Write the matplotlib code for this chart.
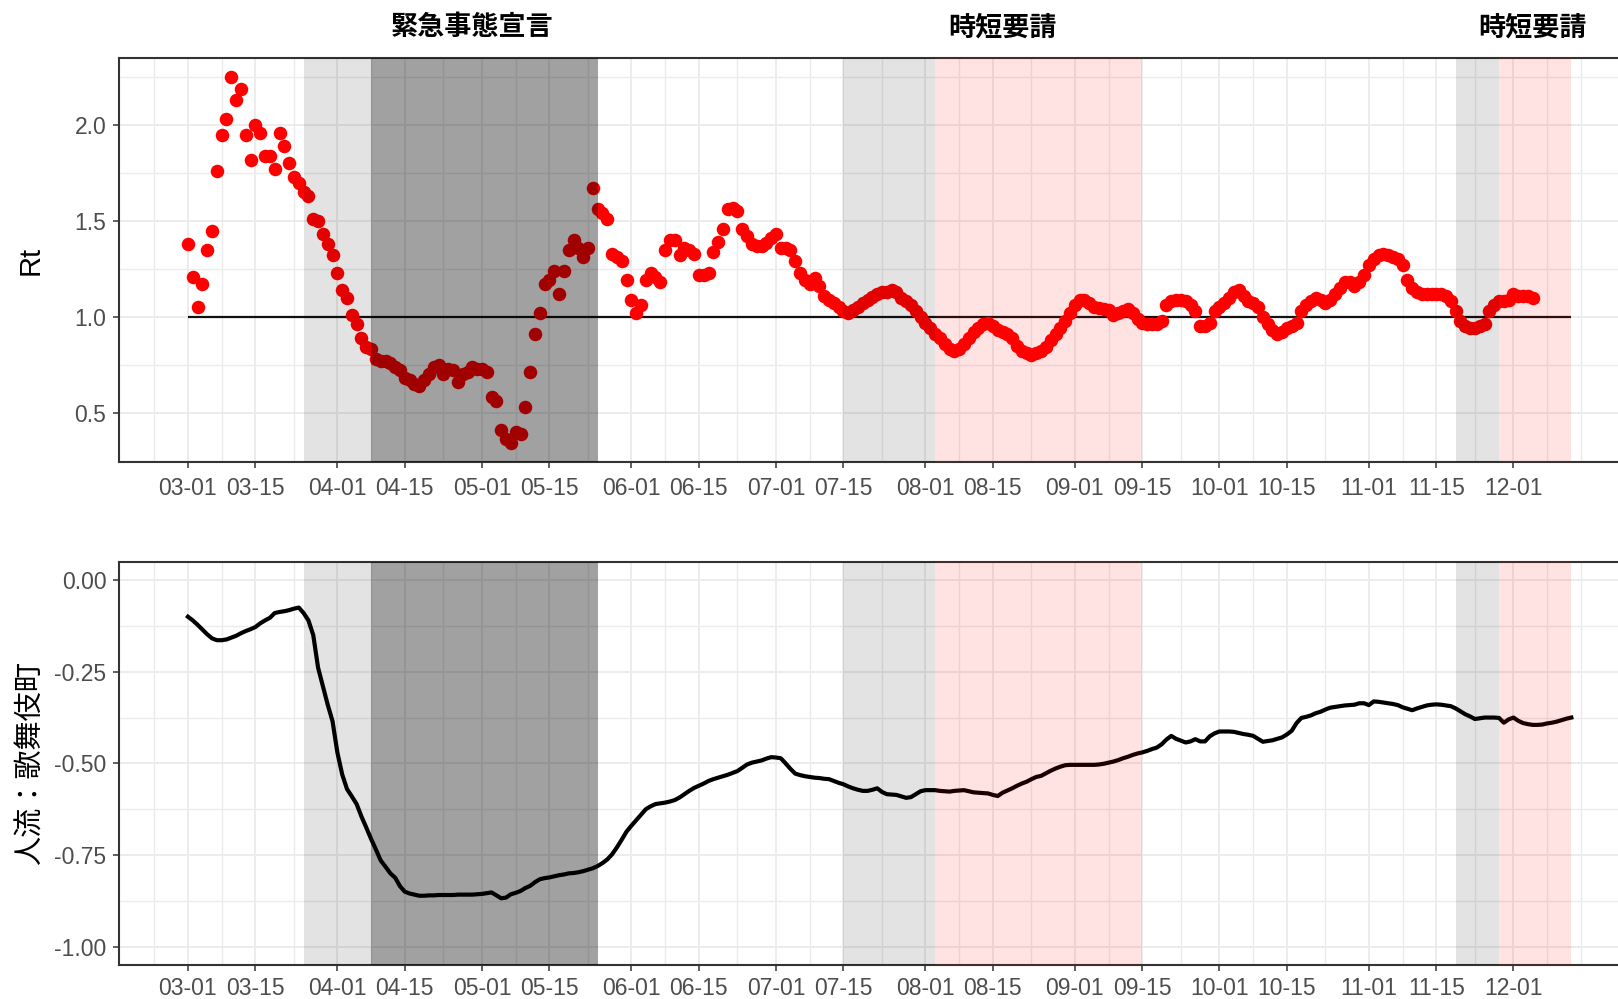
import matplotlib
matplotlib.use("Agg")
import matplotlib.pyplot as plt
import matplotlib.dates as mdates
import numpy as np

plt.rcParams['font.family'] = ['Liberation Sans', 'Noto Sans CJK JP']
plt.rcParams['axes.unicode_minus'] = False

# daily series, starting 2020-03-01
start = np.datetime64('2020-03-01')

rt = [
    1.38, 1.21, 1.05, 1.17, 1.35, 1.45, 1.76, 1.95, 2.03, 2.25,
    2.13, 2.19, 1.95, 1.82, 2.00, 1.96, 1.84, 1.84, 1.77, 1.96,
    1.89, 1.80, 1.73, 1.70, 1.65, 1.63, 1.51, 1.50, 1.43, 1.38,
    1.32, 1.23, 1.14, 1.10, 1.01, 0.96, 0.89, 0.84, 0.83, 0.78,
    0.77, 0.77, 0.76, 0.74, 0.72, 0.68, 0.67, 0.65, 0.64, 0.67,
    0.70, 0.74, 0.75, 0.70, 0.73, 0.72, 0.66, 0.70, 0.71, 0.74,
    0.73, 0.73, 0.71, 0.58, 0.56, 0.41, 0.36, 0.34, 0.40, 0.39,
    0.53, 0.71, 0.91, 1.02, 1.17, 1.19, 1.24, 1.12, 1.24, 1.35,
    1.40, 1.36, 1.31, 1.36, 1.67, 1.56, 1.54, 1.51, 1.33, 1.31,
    1.29, 1.19, 1.09, 1.02, 1.06, 1.19, 1.23, 1.21, 1.18, 1.35,
    1.40, 1.40, 1.32, 1.36, 1.35, 1.33, 1.22, 1.22, 1.23, 1.34,
    1.39, 1.46, 1.56, 1.57, 1.55, 1.46, 1.42, 1.38, 1.37, 1.37,
    1.385, 1.41, 1.43, 1.36, 1.36, 1.35, 1.29, 1.23, 1.19, 1.17,
    1.20, 1.16, 1.11, 1.09, 1.07, 1.05, 1.03, 1.02, 1.035, 1.05,
    1.07, 1.09, 1.105, 1.12, 1.13, 1.13, 1.14, 1.13, 1.10, 1.08,
    1.06, 1.03, 1.00, 0.97, 0.94, 0.91, 0.89, 0.86, 0.83, 0.82,
    0.83, 0.86, 0.89, 0.92, 0.94, 0.96, 0.97, 0.95, 0.93, 0.92,
    0.91, 0.89, 0.85, 0.82, 0.81, 0.80, 0.81, 0.82, 0.84, 0.88,
    0.91, 0.94, 0.98, 1.02, 1.06, 1.09, 1.09, 1.07, 1.05, 1.045,
    1.04, 1.035, 1.01, 1.02, 1.03, 1.04, 1.02, 0.99, 0.97, 0.96,
    0.96, 0.96, 0.98, 1.06, 1.08, 1.09, 1.09, 1.08, 1.06, 1.03,
    0.95, 0.95, 0.97, 1.03, 1.05, 1.07, 1.10, 1.13, 1.14, 1.11,
    1.08, 1.07, 1.05, 1.00, 0.96, 0.93, 0.91, 0.92, 0.94, 0.95,
    0.97, 1.03, 1.06, 1.08, 1.10, 1.09, 1.07, 1.09, 1.12, 1.15,
    1.18, 1.18, 1.16, 1.18, 1.22, 1.27, 1.30, 1.32, 1.33, 1.32,
    1.31, 1.30, 1.27, 1.19, 1.15, 1.13, 1.12, 1.12, 1.12, 1.12,
    1.12, 1.11, 1.08, 1.03, 0.98, 0.95, 0.94, 0.94, 0.95, 0.96,
    1.03, 1.06, 1.08, 1.08, 1.09, 1.12, 1.11, 1.11, 1.11, 1.10,
]

flow = [
    -0.100, -0.110, -0.122, -0.135, -0.148, -0.159, -0.164, -0.164, -0.162, -0.157,
    -0.152, -0.145, -0.139, -0.134, -0.128, -0.118, -0.110, -0.103, -0.090, -0.087,
    -0.085, -0.082, -0.078, -0.075, -0.090, -0.110, -0.150, -0.239, -0.290, -0.340,
    -0.385, -0.470, -0.530, -0.570, -0.590, -0.611, -0.645, -0.675, -0.706, -0.735,
    -0.765, -0.782, -0.800, -0.812, -0.835, -0.850, -0.855, -0.858, -0.861, -0.861,
    -0.860, -0.860, -0.859, -0.859, -0.859, -0.859, -0.858, -0.858, -0.858, -0.858,
    -0.857, -0.856, -0.854, -0.852, -0.860, -0.868, -0.866, -0.857, -0.853, -0.848,
    -0.840, -0.834, -0.824, -0.816, -0.813, -0.811, -0.808, -0.805, -0.803, -0.800,
    -0.799, -0.797, -0.794, -0.790, -0.786, -0.780, -0.772, -0.762, -0.748, -0.729,
    -0.708, -0.686, -0.670, -0.655, -0.640, -0.625, -0.617, -0.611, -0.609, -0.607,
    -0.604, -0.600, -0.593, -0.584, -0.575, -0.567, -0.561, -0.555, -0.548, -0.543,
    -0.539, -0.535, -0.531, -0.526, -0.521, -0.512, -0.503, -0.498, -0.495, -0.492,
    -0.487, -0.483, -0.484, -0.486, -0.500, -0.515, -0.528, -0.532, -0.535, -0.537,
    -0.539, -0.540, -0.542, -0.543, -0.548, -0.553, -0.557, -0.563, -0.568, -0.572,
    -0.575, -0.575, -0.572, -0.568, -0.578, -0.584, -0.585, -0.586, -0.590, -0.594,
    -0.592, -0.584, -0.576, -0.573, -0.573, -0.573, -0.575, -0.576, -0.577, -0.575,
    -0.574, -0.573, -0.576, -0.579, -0.580, -0.581, -0.582, -0.586, -0.589, -0.580,
    -0.574, -0.568, -0.561, -0.555, -0.550, -0.543, -0.537, -0.534, -0.527, -0.520,
    -0.514, -0.509, -0.505, -0.504, -0.504, -0.504, -0.504, -0.504, -0.504, -0.503,
    -0.501, -0.498, -0.495, -0.491, -0.486, -0.482, -0.477, -0.473, -0.470, -0.466,
    -0.461, -0.457, -0.448, -0.435, -0.425, -0.433, -0.438, -0.443, -0.440, -0.434,
    -0.440, -0.440, -0.426, -0.418, -0.413, -0.413, -0.413, -0.414, -0.417, -0.420,
    -0.422, -0.425, -0.433, -0.441, -0.439, -0.437, -0.433, -0.429, -0.421, -0.411,
    -0.390, -0.376, -0.373, -0.369, -0.363, -0.359, -0.353, -0.348, -0.346, -0.344,
    -0.342, -0.341, -0.340, -0.336, -0.336, -0.341, -0.331, -0.332, -0.334, -0.336,
    -0.338, -0.341, -0.347, -0.351, -0.355, -0.350, -0.346, -0.342, -0.340, -0.339,
    -0.340, -0.342, -0.344, -0.350, -0.358, -0.366, -0.372, -0.379, -0.377, -0.375,
    -0.375, -0.375, -0.376, -0.389, -0.380, -0.375, -0.384, -0.390, -0.393, -0.395,
    -0.395, -0.394, -0.391, -0.389, -0.386, -0.382, -0.378, -0.375,
]

rt_dates = start + np.arange(len(rt))
flow_dates = start + np.arange(len(flow))

major_dates = np.array([
    '2020-03-01', '2020-03-15', '2020-04-01', '2020-04-15', '2020-05-01',
    '2020-05-15', '2020-06-01', '2020-06-15', '2020-07-01', '2020-07-15',
    '2020-08-01', '2020-08-15', '2020-09-01', '2020-09-15', '2020-10-01',
    '2020-10-15', '2020-11-01', '2020-11-15', '2020-12-01',
], dtype='datetime64[D]')
unlabeled_break = np.datetime64('2020-12-15')

# shaded periods
pre_periods = [('2020-03-25', '2020-04-08'), ('2020-07-15', '2020-08-03'),
               ('2020-11-19', '2020-11-28')]
emergency_periods = [('2020-04-08', '2020-05-25')]
request_periods = [('2020-08-03', '2020-09-15'), ('2020-11-28', '2020-12-13')]

headers = ['緊急事態宣言', '時短要請', '時短要請']
header_dates = ['2020-04-29', '2020-08-17', '2020-12-05']

rt_ticks = [0.5, 1.0, 1.5, 2.0]
flow_ticks = [0.0, -0.25, -0.5, -0.75, -1.0]

GRID = '#EBEBEB'
FRAME = '#333333'
TICKTXT = '#4D4D4D'


def style_axes(ax, yticks, yfmt, ylim, xpad):
    d0 = mdates.date2num(start)
    ax.set_xlim(d0 - 14.35, d0 + 301.35)
    ax.set_ylim(*ylim)

    ax.set_xticks(major_dates)
    ax.set_xticklabels([str(d)[5:] for d in major_dates])
    mids = major_dates[:-1] + (major_dates[1:] - major_dates[:-1]) // 2
    minor = np.concatenate([[major_dates[0] - 7], mids, [major_dates[-1] + 7, unlabeled_break]])
    ax.set_xticks(minor, minor=True)

    ax.set_yticks(yticks)
    ax.set_yticklabels([yfmt.format(v) for v in yticks])
    ys = sorted(yticks)
    step = ys[1] - ys[0]
    ymin = [ys[0] - step / 2] + [(a + b) / 2 for a, b in zip(ys[:-1], ys[1:])] + [ys[-1] + step / 2]
    ax.set_yticks([v for v in ymin if ylim[0] < v < ylim[1]], minor=True)

    ax.grid(True, which='major', color=GRID, linewidth=1.3, zorder=0)
    ax.grid(True, which='minor', color=GRID, linewidth=1.0, zorder=0)
    ax.set_axisbelow(True)

    ax.tick_params(which='major', length=4.5, width=1.1, color=FRAME,
                   labelsize=16.5, labelcolor=TICKTXT)
    ax.tick_params(axis='x', which='major', pad=xpad)
    ax.tick_params(axis='y', which='major', pad=4.5)
    ax.tick_params(which='minor', length=0)
    for sp in ax.spines.values():
        sp.set_color(FRAME)
        sp.set_linewidth(1.5)


def shade(ax):
    for a, b in pre_periods:
        ax.axvspan(np.datetime64(a), np.datetime64(b), color='black', alpha=0.11,
                   linewidth=0, zorder=5)
    for a, b in emergency_periods:
        ax.axvspan(np.datetime64(a), np.datetime64(b), color='black', alpha=0.37,
                   linewidth=0, zorder=5)
    for a, b in request_periods:
        ax.axvspan(np.datetime64(a), np.datetime64(b), color='red', alpha=0.11,
                   linewidth=0, zorder=5)


fig = plt.figure(figsize=(16.18, 9.99), dpi=100)
ax1 = fig.add_axes([0.0734, 0.5378, 0.9405, 0.4038])
ax2 = fig.add_axes([0.0734, 0.0340, 0.9405, 0.4037])

# top panel: Rt
ax1.hlines(1.0, flow_dates[0], flow_dates[-1], color='#111111', linewidth=1.6, zorder=3)
ax1.scatter(rt_dates, rt, s=95, color='red', linewidths=0, zorder=4)
shade(ax1)
style_axes(ax1, rt_ticks, '{:.1f}', (0.244, 2.348), 6.5)
ax1.set_ylabel('Rt', fontsize=21, va='center')
ax1.yaxis.set_label_coords(-0.058, 0.5)

for txt, d in zip(headers, header_dates):
    ax1.text(np.datetime64(d), 1.0776, txt, transform=ax1.get_xaxis_transform(),
             ha='center', va='center', fontsize=19.5, fontweight='bold',
             family=['Noto Sans CJK JP'], clip_on=False)

# bottom panel: people flow
ax2.plot(flow_dates, flow, color='black', linewidth=3.0, zorder=4)
shade(ax2)
style_axes(ax2, flow_ticks, '{:.2f}', (-1.05, 0.05), 4.0)
ax2.set_ylabel('人流：歌舞伎町', fontsize=21, va='center')
ax2.yaxis.set_label_coords(-0.058, 0.5)

fig.savefig('out.png', dpi=100)
plt.close(fig)
